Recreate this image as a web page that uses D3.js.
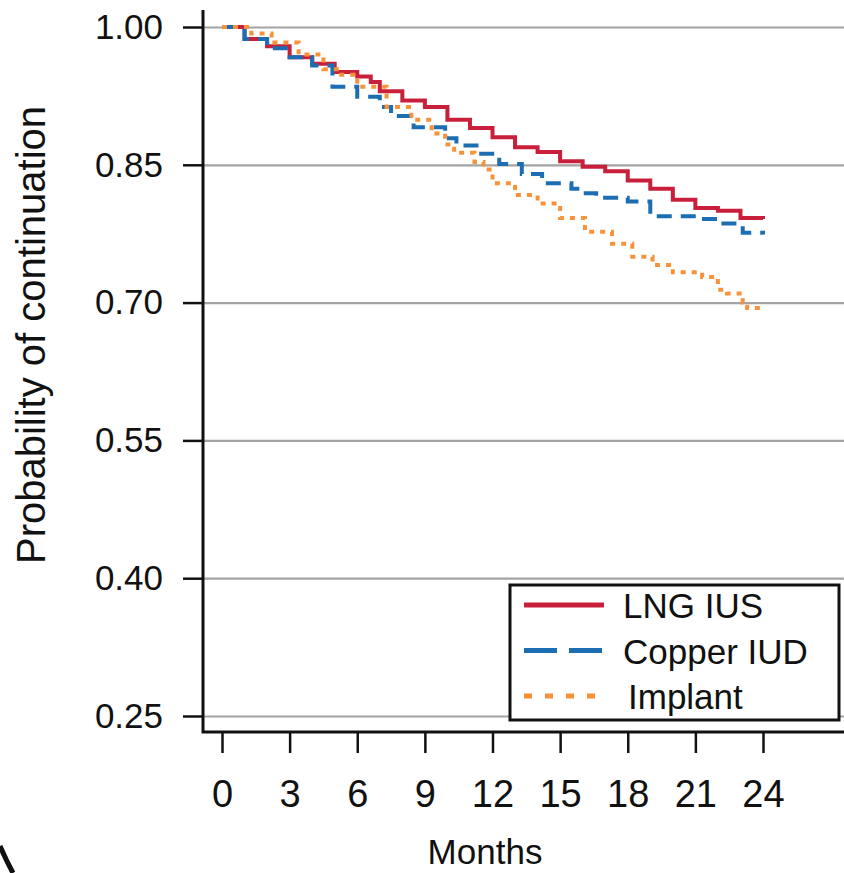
<!DOCTYPE html>
<html>
<head>
<meta charset="utf-8">
<script src="https://cdn.jsdelivr.net/npm/d3@7"></script>
<style>
  body { margin: 0; background: #fff; }
  text { font-family: "Liberation Sans", Arial, sans-serif; fill: #111; }
</style>
</head>
<body>
<div class="chart"></div>
<script>
// Data: [month, probability] step points.
const lngIus = [
  [0, 1.0], [1, 0.987], [2, 0.979], [3, 0.967], [4, 0.96], [5, 0.951],
  [6, 0.946], [6.6, 0.94], [7, 0.93], [8, 0.92], [9, 0.913], [10, 0.899],
  [11, 0.89], [12, 0.88], [13, 0.869], [14, 0.864], [15, 0.854],
  [16, 0.848], [17, 0.843], [18, 0.833], [19, 0.824], [20, 0.812],
  [21, 0.803], [22, 0.8], [23, 0.792], [24, 0.791],
];
const copperIud = [
  [0, 1.0], [1, 0.987], [2, 0.977], [3, 0.967], [4, 0.958], [4.9, 0.935],
  [6, 0.924], [7, 0.913], [7.5, 0.903], [8.5, 0.891], [9.9, 0.879],
  [10.4, 0.871], [11.4, 0.862], [12.3, 0.851], [13.3, 0.84], [14.2, 0.83],
  [15.5, 0.824], [16, 0.819], [16.6, 0.814], [18, 0.81], [19, 0.794],
  [21.2, 0.791], [22.1, 0.786], [23.1, 0.776], [24, 0.774],
];
const implant = [
  [0, 1.0], [1.3, 0.993], [2.2, 0.983], [3.4, 0.97], [4.5, 0.954],
  [5.2, 0.948], [6, 0.935], [7.3, 0.913], [8.4, 0.899], [9.3, 0.884],
  [9.9, 0.872], [10.3, 0.863], [11.2, 0.853], [11.6, 0.845], [12, 0.83],
  [13, 0.817], [14, 0.808], [15, 0.792], [16.1, 0.777], [17.3, 0.764],
  [18.2, 0.75], [19.1, 0.741], [20, 0.733], [21.3, 0.728], [22, 0.714],
  [22.4, 0.71], [23.1, 0.7], [23.3, 0.694], [24, 0.694],
];
const seriesNames = ["LNG IUS", "Copper IUD", "Implant"];
const xTicks = [0, 3, 6, 9, 12, 15, 18, 21, 24];
const yTicks = [0.25, 0.4, 0.55, 0.7, 0.85, 1.0];

// Styles for each series.
const colors = ["#c8203a", "#1d6db2", "#f7923a"];
const plotDash = [null, "15,9", "5,6"];
const legendDash = [null, "33,12", "8,13"];

// Frame.
const W = 844, H = 873;
const frame = { left: 203, right: 844, top: 10, bottom: 732 };

const svg = d3
  .select(".chart")
  .append("svg")
  .attr("width", W)
  .attr("height", H);

// Scales.
const x = d3.scaleLinear().domain([0, 24]).range([222, 763]);
const y = d3.scaleLinear().domain([0.25, 1.0]).range([716, 27]);

// Gridlines.
svg
  .append("g")
  .attr("class", "grid")
  .attr("transform", `translate(${frame.left},0)`)
  .call(d3.axisRight(y).tickValues(yTicks).tickSize(frame.right - frame.left).tickFormat(""))
  .call((g) => g.select(".domain").remove())
  .call((g) => g.selectAll("line").attr("stroke", "#a3a3a3").attr("stroke-width", 2.2));

// Draw lines.
const line = d3
  .line()
  .x((d) => x(d[0]))
  .y((d) => y(d[1]))
  .curve(d3.curveStepAfter);

[lngIus, copperIud, implant].forEach((data, i) => {
  svg
    .append("path")
    .datum(data)
    .attr("fill", "none")
    .attr("stroke", colors[i])
    .attr("stroke-width", 4)
    .attr("stroke-dasharray", plotDash[i])
    .attr("d", line);
});

// Axes.
const yAxis = svg
  .append("g")
  .attr("transform", `translate(${frame.left},0)`)
  .call(d3.axisLeft(y).tickValues(yTicks).tickFormat(d3.format(".2f")).tickSize(20).tickPadding(20));
yAxis.select(".domain").remove();
yAxis.selectAll("line").attr("stroke", "#111").attr("stroke-width", 2.5);
yAxis.selectAll("text").style("font-size", "35px").attr("fill", "#111");

const xAxis = svg
  .append("g")
  .attr("transform", `translate(0,${frame.bottom})`)
  .call(d3.axisBottom(x).tickValues(xTicks).tickSize(21).tickPadding(27));
xAxis.select(".domain").remove();
xAxis.selectAll("line").attr("stroke", "#111").attr("stroke-width", 2.5);
xAxis.selectAll("text").style("font-size", "38px").attr("fill", "#111");

// Axis frame lines.
svg
  .append("path")
  .attr("d", `M${frame.left},${frame.top}V${frame.bottom}H${frame.right}`)
  .attr("fill", "none")
  .attr("stroke", "#111")
  .attr("stroke-width", 3);

// Axis titles.
svg
  .append("text")
  .attr("transform", `translate(45,${(95 + 575) / 2}) rotate(-90)`)
  .attr("text-anchor", "middle")
  .style("font-size", "40px")
  .text("Probability of continuation");

svg
  .append("text")
  .attr("x", 485)
  .attr("y", 864)
  .attr("text-anchor", "middle")
  .style("font-size", "35px")
  .text("Months");

// Legend.
const legend = svg.append("g").attr("class", "legend");
legend
  .append("rect")
  .attr("x", 510)
  .attr("y", 585)
  .attr("width", 329)
  .attr("height", 135)
  .attr("fill", "#fff")
  .attr("stroke", "#111")
  .attr("stroke-width", 3);

seriesNames.forEach((name, i) => {
  const ly = 605 + i * 45.5;
  legend
    .append("line")
    .attr("x1", 524)
    .attr("x2", 604)
    .attr("y1", ly)
    .attr("y2", ly)
    .attr("stroke", colors[i])
    .attr("stroke-width", 5)
    .attr("stroke-dasharray", legendDash[i]);
  legend
    .append("text")
    .attr("x", i === 2 ? 628 : 623)
    .attr("y", ly + 13)
    .style("font-size", "35px")
    .text(name);
});

// Corner of the neighbouring panel badge, cut by the crop.
svg
  .append("path")
  .attr("d", "M0,846 Q6,860 13,873")
  .attr("fill", "none")
  .attr("stroke", "#111")
  .attr("stroke-width", 5);
</script>
</body>
</html>
